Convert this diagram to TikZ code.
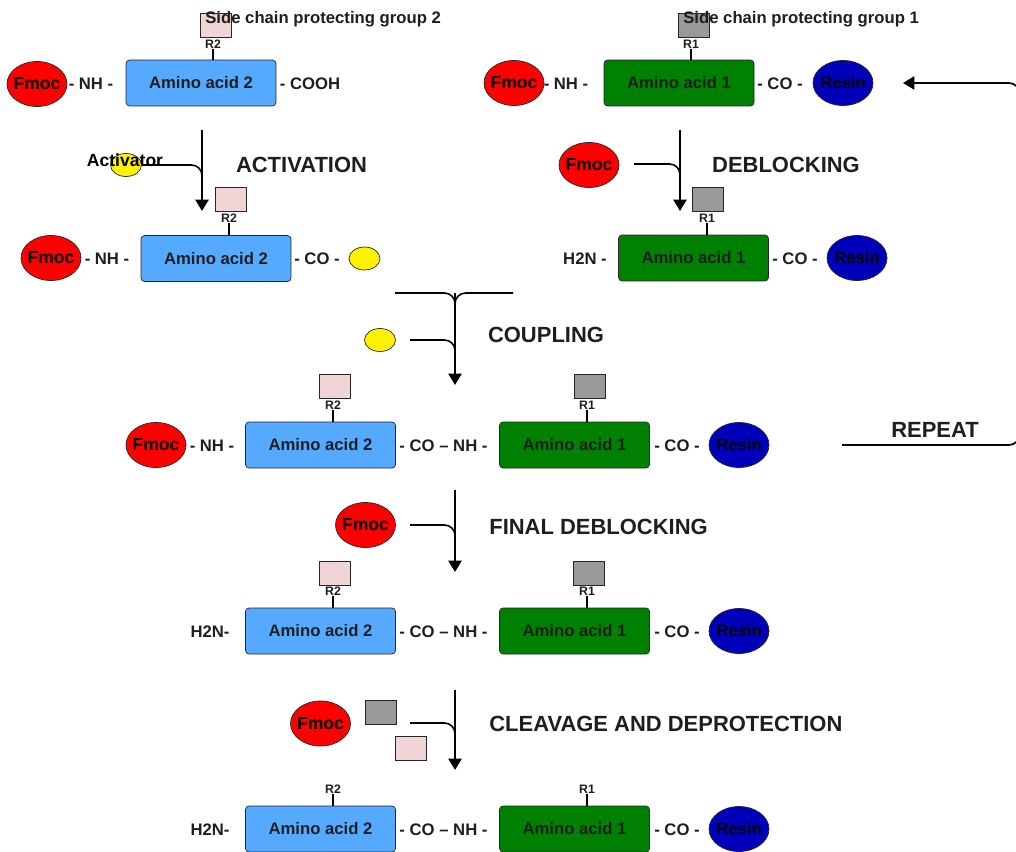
\documentclass[tikz,border=0pt]{standalone}
\usepackage{fontspec}
\setmainfont{Liberation Sans}
\usetikzlibrary{shapes.geometric,arrows.meta}
\definecolor{aablue}{HTML}{55AAFF}
\definecolor{aagreen}{HTML}{008000}
\definecolor{resinblue}{HTML}{0000BB}
\definecolor{pgpink}{HTML}{EFD5D5}
\definecolor{pggray}{HTML}{999999}
\definecolor{ink}{HTML}{1E1E1E}

\begin{document}
\begin{tikzpicture}[x=0.02cm,y=-0.02cm,
  txt/.style={font=\fontsize{9.5}{11}\selectfont\bfseries, text=ink, inner sep=0pt},
  fmoc/.style={ellipse, draw=black!85, fill=red, minimum width=1.2cm, minimum height=0.9cm, inner xsep=-5pt, inner ysep=0pt, font=\fontsize{10}{12}\selectfont\bfseries},
  resin/.style={fmoc, fill=resinblue, font=\fontsize{9.5}{11}\selectfont\bfseries},
  actv/.style={ellipse, draw=black!85, fill=yellow, minimum width=0.62cm, minimum height=0.46cm, inner sep=0pt},
  aa/.style={rectangle, rounded corners=2pt, draw=black!85, minimum width=3cm, minimum height=0.92cm, font=\fontsize{9.5}{11}\selectfont\bfseries, text=ink},
  pg/.style={rectangle, draw=black!85, minimum width=0.62cm, minimum height=0.48cm, inner sep=0pt},
  rlab/.style={font=\fontsize{7}{8}\selectfont\bfseries, text=ink, inner sep=0pt},
  stage/.style={font=\fontsize{12.5}{14}\selectfont\bfseries, text=ink, inner sep=0pt},
  flow/.style={line width=1.3pt, -{Triangle[width=7.5pt,length=6.5pt]}},
  feed/.style={line width=0.9pt, rounded corners=6pt},
  bond/.style={line width=0.6pt}]
  \useasboundingbox (0,0) rectangle (1016,851);
  \clip (0,0) rectangle (1016,851);

  % starting materials
  \node[fmoc] (fm1) at (37,84) {Fmoc};
  \node[txt] (nh1) at (91,84) {- NH -};
  \node[aa, fill=aablue] (aa2a) at (201,83) {Amino acid 2};
  \node[txt] (cooh) at (310,84) {- COOH};
  \node[pg, fill=pgpink] (pg2a) at (215.5,25) {};
  \node[rlab] (r2a) at (213,44) {R2};
  \draw[bond] (r2a.south) -- (r2a.south |- aa2a.north);
  \node[txt, anchor=west] (sc2) at (205,19) {Side chain protecting group 2};

  \node[fmoc] (fm2) at (514,83) {Fmoc};
  \node[txt] (nh2) at (566,84) {- NH -};
  \node[aa, fill=aagreen] (aa1a) at (679,83) {Amino acid 1};
  \node[txt] (co1) at (780,84) {- CO -};
  \node[resin] (rs1) at (843,83) {Resin};
  \node[pg, fill=pggray] (pg1a) at (694,25) {};
  \node[rlab] (r1a) at (691,44) {R1};
  \draw[bond] (r1a.south) -- (r1a.south |- aa1a.north);
  \node[txt, anchor=west] (sc1) at (683,19) {Side chain protecting group 1};

  % activation
  \coordinate (act-top) at (202,130);
  \coordinate (act-bot) at (202,211);
  \coordinate (act-join) at (202,190);
  \draw[flow] (act-top) -- (act-bot);
  \node[actv] (actv1) at (126,165) {};
  \node[font=\fontsize{10}{12}\selectfont\bfseries, inner sep=0pt] (actlab) at (125,160) {Activator};
  \draw[feed] (actv1.east) -| (act-join);
  \node[stage] (act) at (301.5,165) {ACTIVATION};

  \node[fmoc] (fm3) at (51,258) {Fmoc};
  \node[txt] (nh3) at (107,259) {- NH -};
  \node[aa, fill=aablue] (aa2b) at (216,258.5) {Amino acid 2};
  \node[txt] (co2) at (317,259) {- CO -};
  \node[actv] (actv2) at (364.5,258.5) {};
  \node[pg, fill=pgpink] (pg2b) at (231,199.5) {};
  \node[rlab] (r2b) at (229,218) {R2};
  \draw[bond] (r2b.south) -- (r2b.south |- aa2b.north);

  % deblocking
  \coordinate (dbl-top) at (680,130);
  \coordinate (dbl-bot) at (680,211);
  \coordinate (dbl-in) at (634,164);
  \coordinate (dbl-join) at (680,190);
  \node[fmoc] (fm4) at (589,165) {Fmoc};
  \draw[flow] (dbl-top) -- (dbl-bot);
  \draw[feed] (dbl-in) -| (dbl-join);
  \node[stage] (dbl) at (786,165) {DEBLOCKING};

  \node[txt] (h2n1) at (585,259) {H2N -};
  \node[aa, fill=aagreen] (aa1b) at (693.5,258) {Amino acid 1};
  \node[txt] (co3) at (795,259) {- CO -};
  \node[resin] (rs2) at (857,258) {Resin};
  \node[pg, fill=pggray] (pg1b) at (708,199.5) {};
  \node[rlab] (r1b) at (707,218) {R1};
  \draw[bond] (r1b.south) -- (r1b.south |- aa1b.north);

  % coupling
  \coordinate (cpl-top) at (455,293);
  \coordinate (cpl-bot) at (455,385);
  \coordinate (cpl-l) at (395,293);
  \coordinate (cpl-r) at (513,293);
  \coordinate (cpl-in) at (410,340);
  \coordinate (cpl-join) at (455,370);
  \draw[flow] (cpl-top) -- (cpl-bot);
  \draw[feed] (cpl-l) -| (cpl-join);
  \draw[feed] (cpl-r) -| (cpl-join);
  \draw[feed] (cpl-in) -| (cpl-join);
  \node[actv] (actv3) at (380,340) {};
  \node[stage] (cpl) at (546,335) {COUPLING};

  \node[fmoc] (fm5) at (156,445) {Fmoc};
  \node[txt] (nh4) at (212,446) {- NH -};
  \node[aa, fill=aablue] (aa2c) at (320.5,445) {Amino acid 2};
  \node[txt] (conh1) at (443.5,446) {- CO -- NH -};
  \node[aa, fill=aagreen] (aa1c) at (574.5,445) {Amino acid 1};
  \node[txt] (co4) at (677,446) {- CO -};
  \node[resin] (rs3) at (739,445) {Resin};
  \node[pg, fill=pgpink] (pg2c) at (335,386) {};
  \node[rlab] (r2c) at (333,405) {R2};
  \draw[bond] (r2c.south) -- (r2c.south |- aa2c.north);
  \node[pg, fill=pggray] (pg1c) at (589.5,386) {};
  \node[rlab] (r1c) at (587,405) {R1};
  \draw[bond] (r1c.south) -- (r1c.south |- aa1c.north);

  % repeat loop
  \node[stage] (rep) at (935,430) {REPEAT};
  \coordinate (rep-in) at (842,445);
  \coordinate (rep-edge) at (1022,83);
  \coordinate (rep-out) at (903,83);
  \draw[flow, line width=1pt, rounded corners=8pt] (rep-in) -| (rep-edge) -- (rep-out);

  % final deblocking
  \coordinate (fdb-top) at (455,490);
  \coordinate (fdb-bot) at (455,572);
  \coordinate (fdb-in) at (410,525);
  \coordinate (fdb-join) at (455,550);
  \node[fmoc] (fm6) at (365.5,525) {Fmoc};
  \draw[flow] (fdb-top) -- (fdb-bot);
  \draw[feed] (fdb-in) -| (fdb-join);
  \node[stage, anchor=west] (fdb) at (489,527) {FINAL DEBLOCKING};

  \node[txt] (h2n2) at (210,632) {H2N-};
  \node[aa, fill=aablue] (aa2d) at (320.5,631) {Amino acid 2};
  \node[txt] (conh2) at (443.5,632) {- CO -- NH -};
  \node[aa, fill=aagreen] (aa1d) at (574.5,631) {Amino acid 1};
  \node[txt] (co5) at (677,632) {- CO -};
  \node[resin] (rs4) at (739,631) {Resin};
  \node[pg, fill=pgpink] (pg2d) at (335,573) {};
  \node[rlab] (r2d) at (333,591) {R2};
  \draw[bond] (r2d.south) -- (r2d.south |- aa2d.north);
  \node[pg, fill=pggray] (pg1d) at (589,573) {};
  \node[rlab] (r1d) at (587,591) {R1};
  \draw[bond] (r1d.south) -- (r1d.south |- aa1d.north);

  % cleavage
  \coordinate (clv-top) at (455,690);
  \coordinate (clv-bot) at (455,770);
  \coordinate (clv-in) at (410,723);
  \coordinate (clv-join) at (455,745);
  \node[fmoc] (fm7) at (320.5,723.5) {Fmoc};
  \node[pg, fill=pggray] (pg1e) at (380.5,712.5) {};
  \node[pg, fill=pgpink] (pg2e) at (410.5,748) {};
  \draw[flow] (clv-top) -- (clv-bot);
  \draw[feed] (clv-in) -| (clv-join);
  \node[stage, anchor=west] (clv) at (489,724) {CLEAVAGE AND DEPROTECTION};

  \node[txt] (h2n3) at (210,830) {H2N-};
  \node[aa, fill=aablue] (aa2e) at (320.5,829) {Amino acid 2};
  \node[txt] (conh3) at (443.5,830) {- CO -- NH -};
  \node[aa, fill=aagreen] (aa1e) at (574.5,829) {Amino acid 1};
  \node[txt] (co6) at (677,830) {- CO -};
  \node[resin] (rs5) at (739,829) {Resin};
  \node[rlab] (r2e) at (333,789) {R2};
  \draw[bond] (r2e.south) -- (r2e.south |- aa2e.north);
  \node[rlab] (r1e) at (587,789) {R1};
  \draw[bond] (r1e.south) -- (r1e.south |- aa1e.north);
\end{tikzpicture}
\end{document}
